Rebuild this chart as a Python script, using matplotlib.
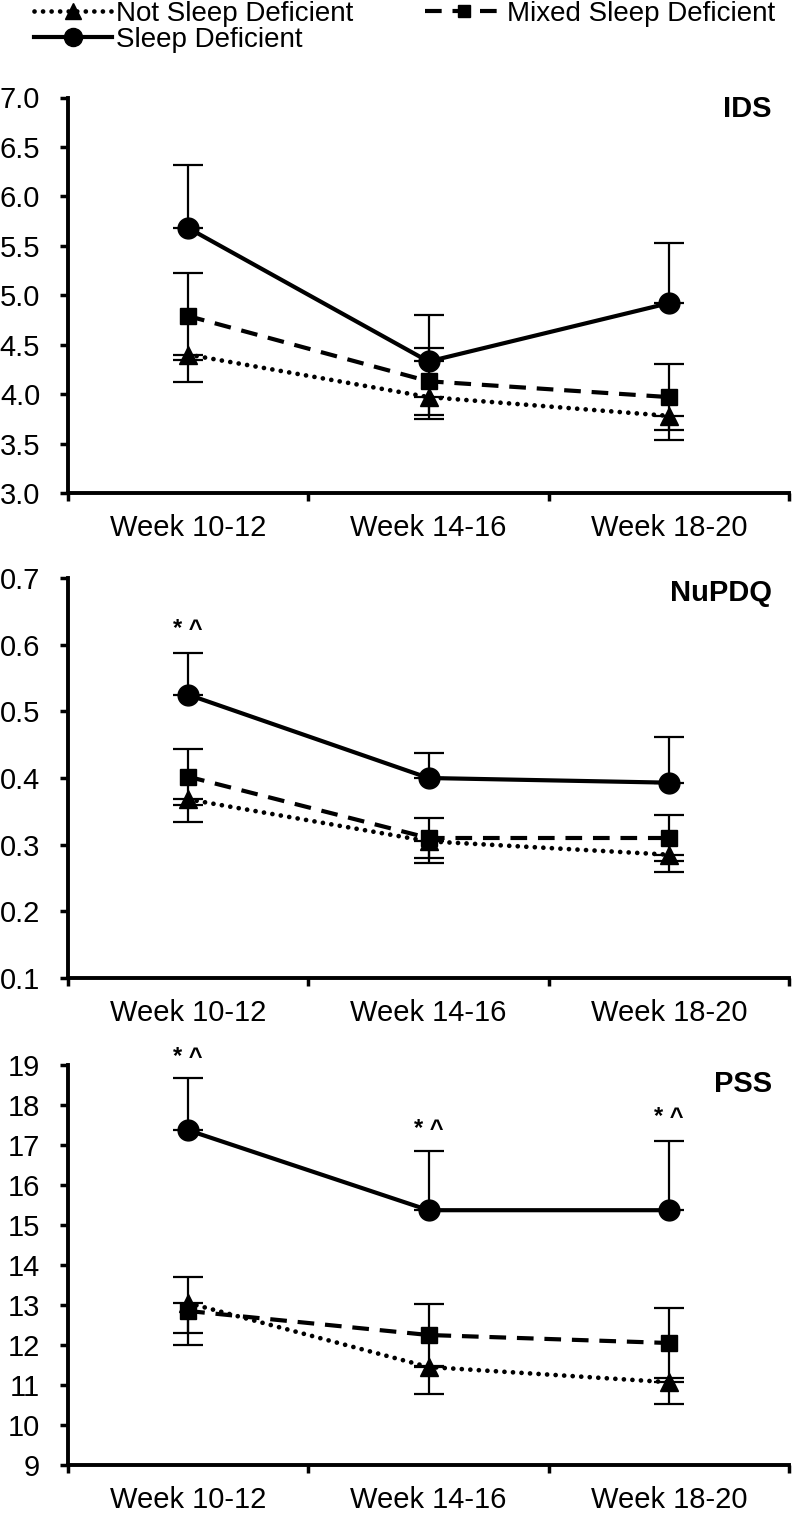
import numpy as np
import matplotlib.pyplot as plt
from matplotlib.lines import Line2D
from matplotlib.ticker import FixedLocator, NullFormatter

# ---------------- data ----------------
weeks = ['Week 10-12', 'Week 14-16', 'Week 18-20']
groups = ['Not Sleep Deficient', 'Mixed Sleep Deficient', 'Sleep Deficient']

ids_nsd = [4.40, 3.97, 3.78]
ids_nsd_err = [0.28, 0.22, 0.24]
ids_mix = [4.79, 4.13, 3.97]
ids_mix_err = [0.44, 0.34, 0.33]
ids_sd = [5.68, 4.33, 4.92]
ids_sd_err = [0.64, 0.47, 0.61]

nupdq_nsd = [0.368, 0.305, 0.285]
nupdq_nsd_err = [0.034, 0.032, 0.026]
nupdq_mix = [0.402, 0.310, 0.310]
nupdq_mix_err = [0.042, 0.030, 0.034]
nupdq_sd = [0.525, 0.400, 0.393]
nupdq_sd_err = [0.062, 0.038, 0.069]

pss_nsd = [13.05, 11.45, 11.07]
pss_nsd_err = [0.75, 0.67, 0.55]
pss_mix = [12.85, 12.25, 12.05]
pss_mix_err = [0.85, 0.77, 0.87]
pss_sd = [17.37, 15.37, 15.37]
pss_sd_err = [1.30, 1.48, 1.73]

# significance marks (x index, y value) per panel
nupdq_sig = [(0, 0.622)]
pss_sig = [(0, 19.2), (1, 17.4), (2, 17.68)]

panels = [
    ('IDS', ids_nsd, ids_nsd_err, ids_mix, ids_mix_err, ids_sd, ids_sd_err,
     (3.0, 7.0), np.arange(3.0, 7.01, 0.5), '%.1f', [], 0.972),
    ('NuPDQ', nupdq_nsd, nupdq_nsd_err, nupdq_mix, nupdq_mix_err, nupdq_sd, nupdq_sd_err,
     (0.1, 0.7), np.arange(0.1, 0.701, 0.1), '%.1f', nupdq_sig, 0.9625),
    ('PSS', pss_nsd, pss_nsd_err, pss_mix, pss_mix_err, pss_sd, pss_sd_err,
     (9, 19), np.arange(9, 19.1, 1), '%d', pss_sig, 0.9525),
]

# line styles
dot = dict(color='black', lw=3.4, ls=(0, (0.01, 1.8)), dash_capstyle='round',
           marker='^', ms=13)
dash = dict(color='black', lw=3.0, ls=(0, (4, 2.6)), dash_capstyle='butt',
            marker='s', ms=11)
solid = dict(color='black', lw=3.0, ls='-', marker='o', ms=15)
ebar = dict(fmt='none', ecolor='black', elinewidth=1.6, capsize=11, capthick=1.6)

# ---------------- figure ----------------
plt.rcParams['font.family'] = ['Liberation Sans', 'DejaVu Sans']
fig = plt.figure(figsize=(7.92, 15.13), dpi=100)

left, width = 68 / 792, 721 / 792
boxes = [(493, 395.5), (978, 400), (1465, 400)]

x = np.arange(3)
for (name, nsd, nsd_e, mix, mix_e, sd, sd_e, ylim, yt, fmt, sig, ty), (bot, hgt) in zip(panels, boxes):
    ax = fig.add_axes([left, 1 - bot / 1513, width, hgt / 1513])

    ax.errorbar(x, nsd, yerr=[nsd_e, [0, 0, 0]], **ebar)
    ax.errorbar(x, mix, yerr=mix_e, **ebar)
    ax.errorbar(x, sd, yerr=[[0, 0, 0], sd_e], **ebar)
    ax.plot(x, nsd, **dot)
    ax.plot(x, mix, **dash)
    ax.plot(x, sd, **solid)

    for xi, yi in sig:
        ax.text(xi, yi, '* ^', ha='center', va='center', fontsize=17,
                fontweight='bold', clip_on=False)

    ax.set_xlim(-0.5, 2.5)
    ax.set_ylim(*ylim)
    ax.set_yticks(yt)
    ax.set_yticklabels([fmt % v for v in yt])
    ax.set_xticks(x)
    ax.set_xticklabels(weeks)
    ax.xaxis.set_minor_locator(FixedLocator([-0.5, 0.5, 1.5, 2.5]))
    ax.xaxis.set_minor_formatter(NullFormatter())
    ax.tick_params(axis='x', which='major', length=0, pad=15, labelsize=21)
    ax.tick_params(axis='x', which='minor', length=6, width=2.5, direction='out')
    ax.tick_params(axis='y', length=6, width=2.5, direction='out', pad=14, labelsize=21)

    for s in ['top', 'right']:
        ax.spines[s].set_visible(False)
    for s in ['left', 'bottom']:
        ax.spines[s].set_linewidth(2.8)
    ax.patch.set_visible(False)

    ax.text(0.976, ty, name, transform=ax.transAxes, ha='right', va='center',
            fontsize=21, fontweight='bold')

handles = [Line2D([], [], ms=11, **{k: v for k, v in dot.items() if k != 'ms'}),
           Line2D([], [], ms=13, **{k: v for k, v in solid.items() if k != 'ms'}),
           Line2D([], [], ms=9, **{k: v for k, v in dash.items() if k != 'ms'})]
fig.legend(handles, [groups[0], groups[2], groups[1]], ncol=2,
           loc='upper left', bbox_to_anchor=(34 / 792, 0.9995),
           frameon=False, borderpad=0, borderaxespad=0,
           handlelength=2.8, handletextpad=0.15, columnspacing=2.6,
           labelspacing=0.0, fontsize=20)

fig.savefig('out.png', dpi=100)
